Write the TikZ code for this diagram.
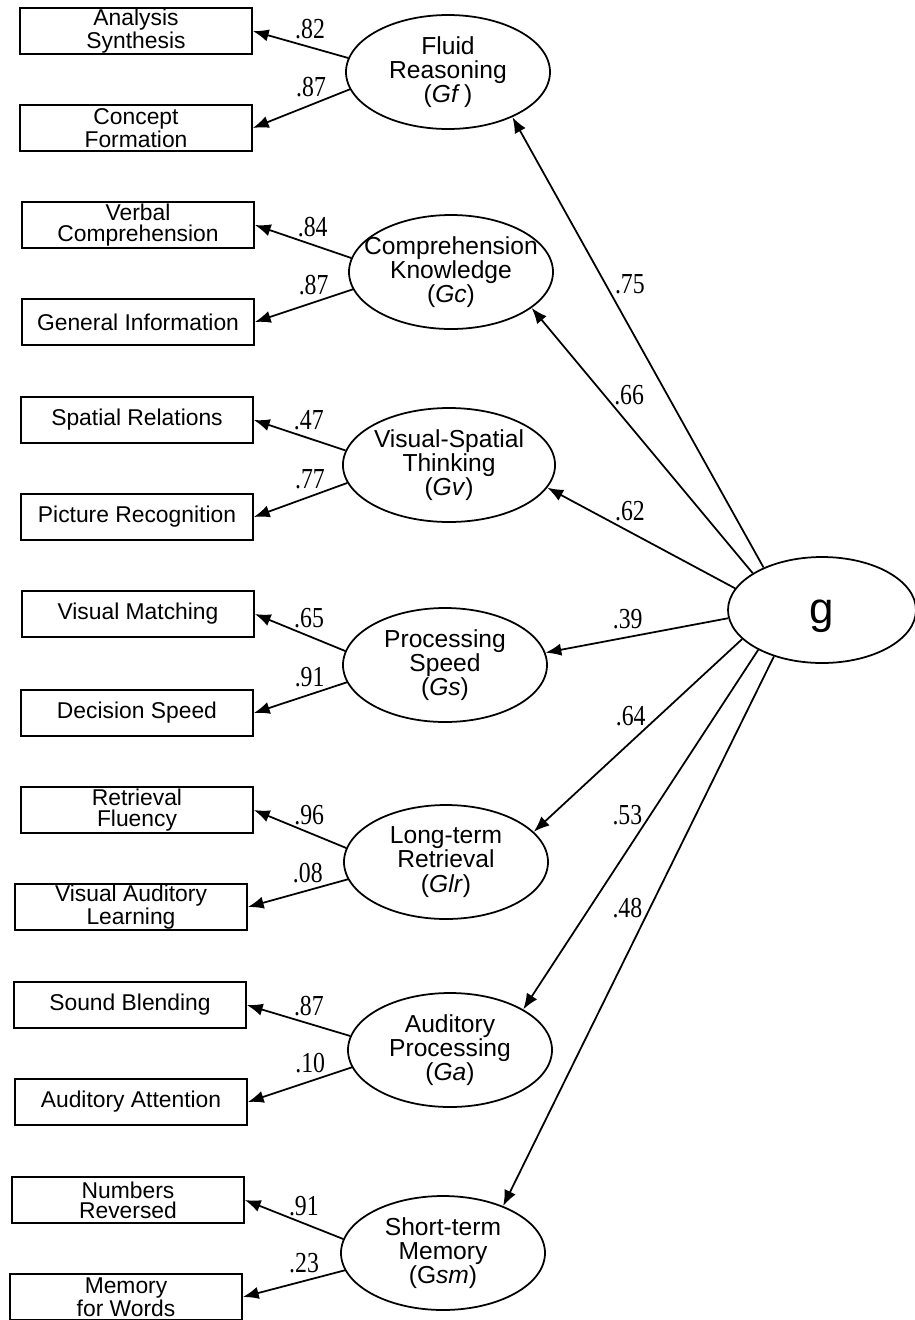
\documentclass[tikz,border=0pt]{standalone}
\usepackage{fontspec}
\setmainfont{Liberation Sans}
\newfontfamily\numfont[FakeStretch=0.82]{Liberation Serif}
\usetikzlibrary{arrows.meta,shapes.geometric}

\tikzset{
    obs/.style={draw, line width=1pt, minimum width=4.64cm, minimum height=0.92cm,
        inner sep=0pt, align=center, font=\fontsize{13}{11.5}\selectfont},
    lat/.style={draw, ellipse, line width=1pt, minimum width=4.08cm, minimum height=2.28cm,
        inner sep=0pt, align=center, font=\fontsize{14}{13.7}\selectfont},
    load/.style={-{Latex[length=9pt,width=7pt]}, line width=1pt},
    wt/.style={font=\numfont\fontsize{16.5}{16.5}\selectfont, inner sep=1pt},
    ldl/.style={wt, pos=0.4, above=3pt},
}

\begin{document}
\begin{tikzpicture}
    \useasboundingbox (0,0) rectangle (18.3,-26.4);

    % 一般因子
    \node[draw, ellipse, line width=1pt, minimum width=3.76cm, minimum height=2.12cm,
        font=\fontsize{25}{25}\selectfont] (g) at (16.44,-12.2) {\raisebox{-7.5pt}[0pt][0pt]{g}};

    % Gf
    \node[lat] (gf) at (8.96,-1.44) {Fluid\\Reasoning\\(\textit{Gf}\,)};
    \node[obs] (as) at (2.72,-0.62) {Analysis\\Synthesis};
    \node[obs] (cf) at (2.72,-2.56) {Concept\\Formation};
    \draw[load] (gf.172) -- node[ldl] {.82} (as.east);
    \draw[load] (gf.190) -- node[ldl] {.87} (cf.east);

    % Gc
    \node[lat] (gc) at (9.02,-5.44) {\makebox[0pt]{Comprehension}\\Knowledge\\(\textit{Gc})};
    \node[obs] (vc) at (2.76,-4.50) {Verbal\\Comprehension};
    \node[obs] (gi) at (2.76,-6.44) {General Information};
    \draw[load] (gc.172) -- node[ldl] {.84} (vc.east);
    \draw[load] (gc.190) -- node[ldl] {.87} (gi.east);

    % Gv
    \node[lat] (gv) at (8.98,-9.30) {Visual-Spatial\\Thinking\\(\textit{Gv})};
    \node[obs] (sr) at (2.74,-8.40) {Spatial Relations};
    \node[obs] (pr) at (2.74,-10.34) {Picture Recognition};
    \draw[load] (gv.172) -- node[ldl] {.47} (sr.east);
    \draw[load] (gv.190) -- node[ldl] {.77} (pr.east);

    % Gs
    \node[lat] (gs) at (8.90,-13.30) {Processing\\Speed\\(\textit{Gs})};
    \node[obs] (vm) at (2.76,-12.28) {Visual Matching};
    \node[obs] (ds) at (2.74,-14.26) {Decision Speed};
    \draw[load] (gs.172) -- node[ldl] {.65} (vm.east);
    \draw[load] (gs.190) -- node[ldl] {.91} (ds.east);

    % Glr
    \node[lat] (glr) at (8.92,-17.24) {Long-term\\Retrieval\\(\textit{Glr})};
    \node[obs] (rf) at (2.74,-16.20) {Retrieval\\Fluency};
    \node[obs] (val) at (2.62,-18.14) {Visual Auditory\\Learning};
    \draw[load] (glr.172) -- node[ldl] {.96} (rf.east);
    \draw[load] (glr.190) -- node[ldl] {.08} (val.east);

    % Ga
    \node[lat] (ga) at (9.00,-21.00) {Auditory\\Processing\\(\textit{Ga})};
    \node[obs] (sb) at (2.60,-20.10) {Sound Blending};
    \node[obs] (aa) at (2.62,-22.04) {Auditory Attention};
    \draw[load] (ga.172) -- node[ldl] {.87} (sb.east);
    \draw[load] (ga.190) -- node[ldl] {.10} (aa.east);

    % Gsm
    \node[lat] (gsm) at (8.86,-25.06) {Short-term\\Memory\\(G\textit{sm})};
    \node[obs] (nr) at (2.56,-24.00) {Numbers\\Reversed};
    \node[obs] (mw) at (2.52,-25.94) {Memory\\for Words};
    \draw[load] (gsm.172) -- node[ldl] {.91} (nr.east);
    \draw[load] (gsm.190) -- node[ldl] {.23} (mw.east);

    % g -> 各能力
    \draw[load] (g.144) -- node[wt, pos=0.63, right=4pt] {.75} (gf.325);
    \draw[load] (g.152) -- node[wt, pos=0.67, right=4pt] {.66} (gc.336);
    \draw[load] (g.166) -- node[wt, pos=0.56, above=5pt] {.62} (gv.347);
    \draw[load] (g.185) -- node[wt, pos=0.55, above=3pt] {.39} (gs.7);
    \draw[load] (g.200) -- node[wt, pos=0.40, left=6pt] {.64} (glr.19);
    \draw[load] (g.212) -- node[wt, pos=0.46, left=3pt] {.53} (ga.29);
    \draw[load] (g.224) -- node[wt, pos=0.457, left=3pt] {.48} (gsm.38);
\end{tikzpicture}
\end{document}
